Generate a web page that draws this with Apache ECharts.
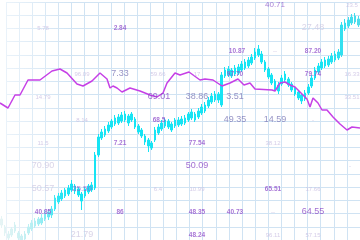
<!DOCTYPE html>
<html>
<head>
<meta charset="utf-8">
<script src="https://cdn.jsdelivr.net/npm/echarts@6/dist/echarts.min.js"></script>
<style>html,body{margin:0;padding:0;background:#fff;}#c{width:360px;height:240px;}</style>
</head>
<body>
<div id="c"></div>
<script>
// ---- DATA ----
const candleOpen  = [15,13,6,5,9,7,4,1,7,11,14,16,17,21,23,25,31,38,41,44,46,50,54,51,46,44,48,50,52,85,102,105,109,113,116,117,119,120,124,120,121,114,110,104,100,97,100,107,111,114,119,116,114,115,116,117,120,122,126,123,127,129,134,138,140,146,135,164,165,170,166,167,170,172,174,177,182,185,186,178,171,165,159,155,156,160,161,156,152,148,145,141,147,154,162,168,172,174,175,178,180,182,185,211,214,217,224,221];
const candleClose = [21,7,2,11,15,2,0,6,13,17,19,21,22,27,28,31,42,44,47,50,52,56,49,45,39,51,54,55,85,103,108,111,115,119,122,123,125,126,117,126,113,108,104,98,94,92,110,113,117,120,113,110,120,120,121,122,126,128,120,129,133,135,140,144,146,140,165,170,171,164,172,173,176,178,180,183,188,191,178,170,163,157,151,149,162,166,155,150,146,142,139,147,153,162,170,174,178,180,181,184,186,188,215,217,220,223,218,215];
const candleLow   = [12,4,0,3,7,0,0,0,5,9,12,14,15,19,20,22,29,36,39,42,44,48,46,43,30,42,46,48,50,83,100,103,107,111,114,115,117,118,114,118,111,106,102,95,88,90,98,105,109,112,111,108,112,113,114,115,118,120,118,121,125,127,132,136,138,137,133,162,163,162,164,165,168,170,172,175,180,183,176,168,161,155,149,146,154,158,153,148,144,140,136,139,145,152,160,166,170,172,173,176,178,180,183,209,212,215,216,213];
const candleHigh  = [24,15,9,13,18,9,6,9,16,20,22,23,26,30,31,34,45,47,50,52,55,60,56,53,48,53,56,58,88,106,111,114,118,121,125,126,128,129,126,128,123,116,112,106,102,99,113,116,120,122,121,118,122,123,124,125,128,131,128,132,136,138,143,147,149,148,168,173,174,172,175,176,179,181,183,186,192,195,189,180,173,167,161,158,165,169,163,158,154,150,147,150,156,165,173,177,181,183,184,187,189,191,218,221,223,226,227,224];

const lineX = [0,8,15,20,28,40,52,60,67,77,83,92,100,107,110,113,117,122,130,140,150,157,163,167,175,180,189,200,205,213,222,230,238,244,250,255,272,275,280,285,290,295,300,307,310,313,318,322,327,333,340,347,352,360];
const lineY = [137,132,145,145,160,160,169,171,167,156,154,159,167,161,152,154,152,148,152,149,145,143,147,157,167,165,168,160,161,160,154,157,161,155,157,151,150,149,157,158,155,153,148,141,133,142,137,130,130,123,116,110,113,112];

const labelText = ["40.71","23.5","5.78","2.84","27.48","10.87","--","87.20","96.09","7.33","59.66","17","97.70","79.74","16.33","14.79","69.01","38.86","3.51","33.51","8.14","68.5","49.35","14.59","-","11.5","7.21","77.54","38.12","70.90","50.09","-","50.57","25.50","--","6.4","10.99","65.51","17.66","40.85","86","48.35","40.73","--","64.55","21.79","48.24","96.11","57.15"];
const labelX = [275,352,43,120,313,237,275,313,82,120,158,197,235,313,352,43,159,197,235,352,82,159,235,275,313,43,120,197,273,43,197,350,43,82,120,158,197,273,313,43,120,197,235,273,313,82,197,273,313];
const labelY = [235,235,212,212,212,189,189,189,166,166,166,166,166,166,166,143,143,143,143,143,120,120,120,120,120,97,97,97,97,74,74,74,51,51,51,51,51,51,51,28,28,28,28,28,28,5,5,5,5];

// ---- STYLE ----
const labelTone = [5,3,3,2,4,2,3,2,3,1,3,3,2,2,3,3,0,1,1,3,3,2,1,1,3,3,2,2,3,4,0,3,4,5,3,3,3,2,3,2,2,2,2,3,0,4,2,3,3];
const tones = [
  {color:'#8a48c6', fontSize:9},
  {color:'#7c78b6', fontSize:9},
  {color:'#9252cc', fontSize:6.5, fontWeight:'bold'},
  {color:'#cbbfe2', fontSize:6},
  {color:'#cfc9e2', fontSize:9},
  {color:'#9460cc', fontSize:8}
];

const cats = candleOpen.map((_, i) => String(i));
const candleData = candleOpen.map((o, i) => [o, candleClose[i], candleLow[i], candleHigh[i]]);
const lineData = lineX.map((x, i) => [x, lineY[i]]);
const labelData = labelText.map((t, i) => ({
  value: [labelX[i], labelY[i]],
  name: t,
  label: Object.assign({show:true, position:'inside', formatter: t, fontFamily:'Liberation Sans'}, tones[labelTone[i]])
}));

const chart = echarts.init(document.getElementById('c'), null, {renderer:'canvas'});
const hidden = {axisLine:{show:false}, axisTick:{show:false}, axisLabel:{show:false}, splitLine:{show:false}};
const cyan = new echarts.graphic.LinearGradient(0, 0, 360, 0, [
  {offset:0, color:'#c4e4e6'}, {offset:0.1, color:'#8ee8ee'}, {offset:0.16, color:'#16e4f4'},
  {offset:0.9, color:'#16e4f4'}, {offset:1, color:'#50dcec'}
], true);

chart.setOption({
  animation:false,
  backgroundColor:'#ffffff',
  grid:[
    {left:0, top:0, width:360, height:240},
    {left:6, top:2, width:360, height:240}
  ],
  xAxis:[
    Object.assign({type:'category', data:cats, gridIndex:0, boundaryGap:true}, hidden),
    Object.assign({type:'value', min:0, max:360, gridIndex:0}, hidden),
    {type:'value', min:0, max:27, interval:1, gridIndex:1, axisLine:{show:false}, axisTick:{show:false}, axisLabel:{show:false},
     splitLine:{show:true, lineStyle:{color:'#d0e3f3', width:1}}}
  ],
  yAxis:[
    Object.assign({type:'value', min:0, max:240, gridIndex:0}, hidden),
    {type:'value', min:0, max:18, interval:1, gridIndex:1, inverse:true, axisLine:{show:false}, axisTick:{show:false}, axisLabel:{show:false},
     splitLine:{show:true, lineStyle:{color:'#d0e3f3', width:1}}}
  ],
  graphic:[
    {type:'rect', left:0, top:0, z:3, silent:true, shape:{width:70, height:240},
     style:{fill:new echarts.graphic.LinearGradient(0,0,1,0,[{offset:0,color:'rgba(255,255,255,0.6)'},{offset:1,color:'rgba(255,255,255,0)'}])}}
  ],
  series:[
    {type:'candlestick', xAxisIndex:0, yAxisIndex:0, data:candleData, barWidth:2.4, z:2,
     itemStyle:{color:cyan, color0:cyan, borderColor:cyan, borderColor0:cyan, borderWidth:1}},
    {type:'line', xAxisIndex:1, yAxisIndex:0, data:lineData, symbol:'none', z:4,
     lineStyle:{color:'#c640e6', width:1.5}},
    {type:'scatter', xAxisIndex:1, yAxisIndex:0, data:labelData, symbolSize:0, z:5, silent:true}
  ]
});
</script>
</body>
</html>
